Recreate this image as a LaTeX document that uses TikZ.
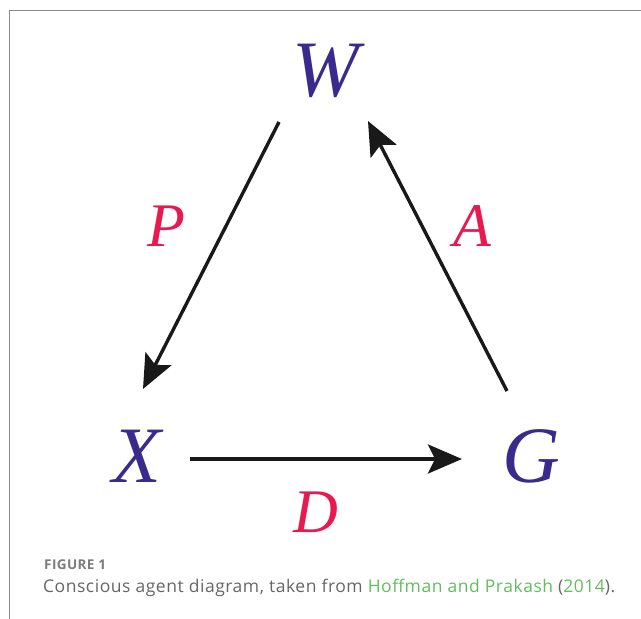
\documentclass[tikz,border=0pt]{standalone}
\usepackage{fontspec}
\setmainfont{Liberation Serif}
\newfontfamily\capfont[LetterSpace=3]{Open Sans}
\usetikzlibrary{arrows.meta}
\definecolor{agentpurple}{HTML}{3A2A8C}
\definecolor{agentred}{HTML}{E8194F}
\definecolor{capgreen}{HTML}{62BD5E}
\definecolor{capgray}{HTML}{666666}
\definecolor{framegray}{HTML}{8A8A8A}
\begin{document}
\begin{tikzpicture}[x=1pt,y=-1pt,
  agent/.style={text=agentpurple,font=\fontsize{80}{80}\selectfont\itshape,inner sep=0pt},
  maplabel/.style={text=agentred,font=\fontsize{62}{62}\selectfont\itshape,inner sep=0pt},
  maparrow/.style={line width=3.4pt,draw=black!90,-{Stealth[length=34pt,width=29pt,inset=7pt]}},
  captext/.style={anchor=west,inner sep=0pt,text=capgray}]
\useasboundingbox (0,0) rectangle (641,619);
\draw[framegray,line width=1.3pt] (9.5,619) -- (9.5,10.5) -- (641,10.5);
\node[agent] (W) at (326,71) {W};
\node[agent] (X) at (137,456) {X};
\node[agent] (G) at (531,456) {G};
\node[maplabel] (P) at (166,226) {P};
\node[maplabel] (A) at (472,226) {A};
\node[maplabel] (D) at (316,512) {D};
\coordinate (ws) at (279,122);
\coordinate (xe) at (143,389);
\coordinate (gs) at (507,391);
\coordinate (we) at (368,121);
\coordinate (xs) at (190,459);
\coordinate (ge) at (462,459);
\draw[maparrow] (ws) -- (xe);
\draw[maparrow] (gs) -- (we);
\draw[maparrow] (xs) -- (ge);
\node[captext,text=framegray!90!black,font=\capfont\bfseries\fontsize{13.5}{15}\selectfont] (fig) at (44,565) {FIGURE 1};
\node[captext,font=\capfont\fontsize{17.5}{20}\selectfont] (cap) at (43,588) {Conscious agent diagram, taken from \textcolor{capgreen}{Hoffman and Prakash} (\textcolor{capgreen}{2014}).};
\end{tikzpicture}
\end{document}
